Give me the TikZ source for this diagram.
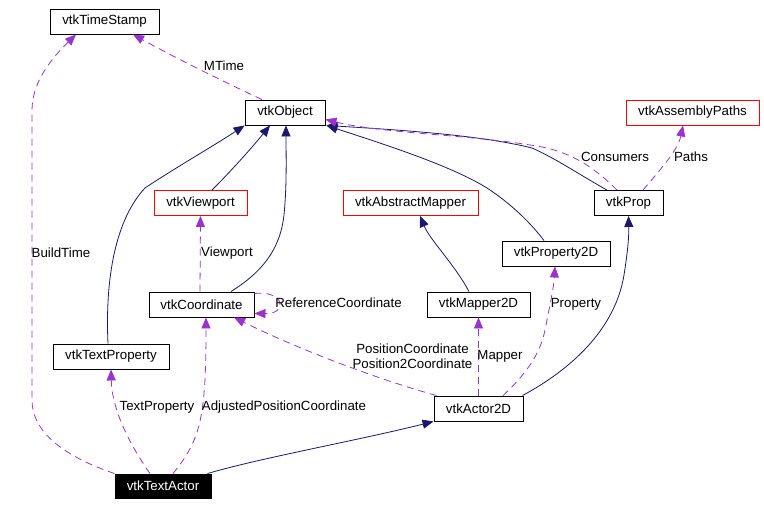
\documentclass[tikz,border=0pt]{standalone}
\usepackage{fontspec}
\setmainfont{Liberation Sans}
\usetikzlibrary{arrows.meta}
\definecolor{navy}{HTML}{191970}
\definecolor{purp}{HTML}{9A32CD}
\definecolor{boxred}{HTML}{FF0000}
\tikzset{
  cls/.style={draw=black, rectangle, minimum height=25pt, inner sep=0pt, line width=0.9pt, font=\fontsize{13.3}{15}\selectfont, fill=white},
  redcls/.style={cls, draw=boxred},
  maincls/.style={cls, fill=black, text=white},
  inh/.style={draw=navy, line width=0.8pt, -{Triangle[length=11pt,width=9pt]}, navy},
  use/.style={draw=purp, line width=0.8pt, dash pattern=on 7pt off 5pt, -{Triangle[length=11pt,width=9pt]}, purp},
  lbl/.style={font=\fontsize{13.3}{15}\selectfont, inner sep=0pt, text=black}
}
\begin{document}
\begin{tikzpicture}[x=1pt,y=-1pt]
\useasboundingbox (0,0) rectangle (764,506);
\fill[white] (0,0) rectangle (764,506);
% nodes
\node[cls, minimum width=109pt] (TS) at (104.5,21.5) {vtkTimeStamp};
\node[cls, minimum width=80pt] (Obj) at (285,112.5) {vtkObject};
\node[redcls, minimum width=133pt] (AP) at (692.5,112.5) {vtkAssemblyPaths};
\node[redcls, minimum width=93pt] (VP) at (200.5,203) {vtkViewport};
\node[redcls, minimum width=135pt] (AM) at (410.5,203) {vtkAbstractMapper};
\node[cls, minimum width=69pt] (Prop) at (628.5,203) {vtkProp};
\node[cls, minimum width=108pt] (P2D) at (556,253.5) {vtkProperty2D};
\node[cls, minimum width=105pt] (Coord) at (201.5,304.5) {vtkCoordinate};
\node[cls, minimum width=103pt] (M2D) at (478.5,304.5) {vtkMapper2D};
\node[cls, minimum width=116pt] (TP) at (111,356.5) {vtkTextProperty};
\node[cls, minimum width=89pt] (A2D) at (478.5,408.5) {vtkActor2D};
\node[maincls, minimum width=96pt, minimum height=24pt] (TA) at (163,486) {vtkTextActor};
% inheritance (solid)
\draw[inh] ([xshift=-3pt]TP.north) .. controls (105,280) and (115,220) .. (145,188) .. controls (175,168) and (215,145) .. (Obj.south west);
\draw[inh] ([xshift=11.5pt]VP.north) .. controls (230,172) and (250,150) .. ([xshift=-15pt]Obj.south);
\draw[inh] ([xshift=29.5pt]Coord.north) .. controls (262,272) and (280,250) .. (284,215) .. controls (287,185) and (286,155) .. ([xshift=1pt]Obj.south);
\draw[inh] ([xshift=-12pt]P2D.north) .. controls (530,222) and (510,203) .. (487,188) .. controls (450,165) and (380,143) .. ([xshift=1pt]Obj.south east);
\draw[inh] ([xshift=-21.5pt]Prop.north) .. controls (580,175) and (555,158) .. (532,148) .. controls (480,135) and (400,130) .. ([xshift=1pt]Obj.south east);
\draw[inh] ([xshift=-9.5pt]M2D.north) .. controls (455,265) and (430,240) .. ([xshift=9.5pt]AM.south);
\draw[inh] ([xshift=-1pt]A2D.north east) .. controls (570,370) and (615,330) .. (624,275) .. controls (628,250) and (629,235) .. (Prop.south);
\draw[inh] ([xshift=-4pt]TA.north east) .. controls (260,458) and (360,440) .. (A2D.south west);
% usage (dashed)
\draw[use] ([xshift=-23pt]Obj.north) .. controls (220,80) and (170,55) .. ([xshift=28.5pt]TS.south);
\draw[use] (TA.north west) .. controls (60,455) and (32,430) .. (32,400) -- (32,110) .. controls (32,80) and (55,55) .. ([xshift=-28.5pt]TS.south);
\draw[use] ([xshift=-11.5pt]Prop.north) .. controls (595,168) and (570,150) .. (530,145) .. controls (470,135) and (380,133) .. ([yshift=6pt]Obj.south east);
\draw[use] ([xshift=14.5pt]Prop.north) .. controls (660,170) and (678,150) .. ([xshift=-9.5pt]AP.south);
\draw[use] ([xshift=-1.5pt]Coord.north) -- (VP.south);
\draw[use] ([yshift=-2pt]Coord.north east) .. controls (285,290) and (288,314) .. ([yshift=4pt]Coord.south east);
\draw[use] ([xshift=24.5pt]A2D.north) .. controls (525,375) and (540,355) .. (545,330) .. controls (550,305) and (554,285) .. ([xshift=-1pt]P2D.south);
\draw[use] (A2D.north) -- (M2D.south);
\draw[use] ([xshift=3pt]A2D.north west) .. controls (380,380) and (300,350) .. ([xshift=32.5pt]Coord.south);
\draw[use] ([xshift=-13pt]TA.north) .. controls (130,445) and (112,410) .. (TP.south);
\draw[use] ([xshift=10pt]TA.north) .. controls (200,440) and (206,420) .. ([xshift=4.5pt]Coord.south);
% labels
\node[lbl] (lMTime) at (224,66) {MTime};
\node[lbl] (lBuild) at (61,253) {BuildTime};
\node[lbl] (lView) at (227,253) {Viewport};
\node[lbl] (lRef) at (338.5,303) {ReferenceCoordinate};
\node[lbl] (lCons) at (615,157) {Consumers};
\node[lbl] (lPaths) at (691,157) {Paths};
\node[lbl] (lProp) at (576,304) {Property};
\node[lbl, align=center] (lPos) at (412.5,356) {PositionCoordinate\\Position2Coordinate};
\node[lbl] (lMap) at (500,356) {Mapper};
\node[lbl] (lTP) at (157,407) {TextProperty};
\node[lbl] (lAdj) at (284,407) {AdjustedPositionCoordinate};
\end{tikzpicture}
\end{document}
